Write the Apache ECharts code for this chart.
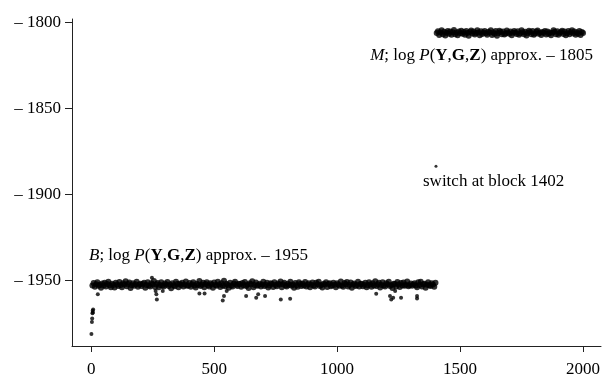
<!DOCTYPE html>
<html>
<head>
<meta charset="utf-8">
<script src="https://cdn.jsdelivr.net/npm/echarts@6/dist/echarts.min.js"></script>
<style>
  html, body { margin: 0; padding: 0; background: #fff; }
  #chart { width: 613px; height: 378px; }
</style>
</head>
<body>
<div id="chart"></div>
<script>
  // tick labels
  var xTicks = [0, 500, 1000, 1500, 2000]
  var yTicks = [-1950, -1900, -1850, -1800]

  // burn-in at the start of the chain (block, log P)
  var burnIn = [[1, -1981], [3, -1974], [4, -1972], [5, -1969], [6, -1967.5], [7, -1968.5], [8, -1966.8]]

  // model B, read every 5th block from 5 to 1400
  var bStart = 5
  var bStep = 5
  var bValues = [
    -1952.8,-1951.4,-1953.6,-1952.1,-1950.9,-1953.0,-1952.4,-1954.1,-1951.7,-1952.9,-1951.2,-1953.4,-1952.0,-1950.6,-1952.7,-1953.8,-1951.9,-1952.5,-1954.0,-1951.3,
    -1952.2,-1953.1,-1950.8,-1952.6,-1953.9,-1951.6,-1952.3,-1950.4,-1953.3,-1952.0,-1951.1,-1954.3,-1952.7,-1951.5,-1953.0,-1952.1,-1950.7,-1953.6,-1952.4,-1951.8,
    -1953.2,-1952.0,-1951.3,-1954.2,-1952.6,-1950.9,-1952.8,-1953.5,-1951.6,-1952.3,-1950.2,-1953.7,-1952.1,-1951.4,-1953.9,-1952.5,-1951.0,-1952.9,-1953.4,-1951.7,
    -1952.4,-1950.8,-1953.1,-1952.2,-1954.4,-1951.5,-1952.7,-1953.3,-1950.6,-1952.0,-1953.8,-1951.9,-1952.6,-1951.2,-1953.5,-1952.3,-1950.5,-1953.0,-1952.8,-1951.4,
    -1953.6,-1952.1,-1951.0,-1952.9,-1954.0,-1951.8,-1952.5,-1950.3,-1953.2,-1952.4,-1951.3,-1953.9,-1952.0,-1950.9,-1952.7,-1953.4,-1951.6,-1952.2,-1954.2,-1951.1,
    -1952.6,-1953.0,-1950.7,-1952.3,-1953.7,-1951.5,-1952.9,-1950.1,-1953.3,-1951.9,-1952.5,-1954.1,-1951.2,-1952.8,-1953.5,-1951.7,-1950.6,-1952.4,-1953.1,-1951.9,
    -1952.0,-1953.6,-1951.4,-1952.7,-1950.8,-1953.2,-1952.3,-1954.3,-1951.6,-1952.1,-1950.4,-1953.8,-1952.6,-1951.1,-1953.0,-1952.5,-1951.8,-1953.4,-1952.2,-1950.7,
    -1953.1,-1952.4,-1951.2,-1954.0,-1952.8,-1951.5,-1952.0,-1953.7,-1950.9,-1952.6,-1953.3,-1951.7,-1952.2,-1950.5,-1953.9,-1952.1,-1951.3,-1952.9,-1953.5,-1951.8,
    -1952.5,-1950.6,-1953.0,-1952.3,-1954.2,-1951.4,-1952.7,-1953.6,-1951.0,-1952.0,-1953.2,-1951.9,-1952.8,-1950.8,-1953.4,-1952.2,-1951.6,-1953.8,-1952.4,-1951.1,
    -1952.9,-1953.5,-1951.3,-1952.1,-1950.7,-1953.1,-1952.6,-1954.0,-1951.8,-1952.3,-1950.9,-1953.7,-1952.0,-1951.5,-1953.3,-1952.7,-1951.2,-1952.4,-1953.9,-1951.6,
    -1952.2,-1953.0,-1950.5,-1952.8,-1953.6,-1951.4,-1952.1,-1950.8,-1953.4,-1952.5,-1951.1,-1954.1,-1952.3,-1951.7,-1953.1,-1952.6,-1950.6,-1953.5,-1952.0,-1951.9,
    -1953.3,-1952.4,-1951.2,-1953.9,-1952.7,-1950.9,-1952.2,-1953.6,-1951.5,-1952.8,-1950.4,-1953.2,-1952.1,-1951.3,-1954.0,-1952.6,-1951.0,-1952.9,-1953.4,-1951.6,
    -1952.3,-1950.7,-1953.1,-1952.5,-1954.3,-1951.8,-1952.0,-1953.5,-1950.8,-1952.2,-1953.7,-1951.4,-1952.9,-1951.1,-1953.0,-1952.4,-1950.5,-1953.3,-1952.7,-1951.7,
    -1953.0,-1952.2,-1951.5,-1952.8,-1953.8,-1951.0,-1952.6,-1950.6,-1953.4,-1952.1,-1951.9,-1954.2,-1952.4,-1950.9,-1952.7,-1953.2,-1951.6,-1952.3,-1953.6,-1951.2
  ]

  // stray low values under the B band (block, log P)
  var bOutliers = [
    [27, -1958], [247, -1948.3], [262, -1956], [265, -1958], [267, -1961], [291, -1956],
    [440, -1957.5], [461, -1957.5], [535, -1961.5], [540, -1959], [551, -1956],
    [630, -1959], [671, -1960], [679, -1958], [707, -1959], [771, -1961], [809, -1960.6],
    [1159, -1957.7], [1215, -1959], [1220, -1961], [1228, -1960], [1236, -1956],
    [1260, -1960], [1325, -1960.4], [1325, -1959]
  ]

  // the switch
  var switchPoint = [[1402, -1883.5]]

  // model M, every 5th block from 1405 to 2000
  var mStart = 1405
  var mStep = 5
  var mValues = [
    -1806.2,-1805.1,-1807.3,-1805.8,-1804.6,-1806.9,-1805.4,-1807.6,-1806.0,-1804.9,-1806.5,-1805.2,-1807.1,-1805.7,-1804.4,-1806.8,-1805.9,-1807.4,-1805.3,-1806.3,
    -1804.8,-1806.6,-1805.5,-1807.2,-1805.0,-1806.1,-1807.7,-1805.6,-1804.7,-1806.4,-1805.3,-1807.0,-1806.2,-1804.5,-1805.9,-1807.5,-1805.1,-1806.7,-1805.8,-1804.9,
    -1806.3,-1807.1,-1805.4,-1806.0,-1804.6,-1807.3,-1805.7,-1806.5,-1805.0,-1807.8,-1806.1,-1804.8,-1805.6,-1806.9,-1805.2,-1807.0,-1806.4,-1804.7,-1805.9,-1806.6,
    -1805.3,-1807.4,-1806.0,-1804.9,-1805.8,-1806.7,-1805.1,-1807.2,-1806.3,-1804.5,-1805.7,-1806.8,-1805.4,-1807.6,-1806.1,-1804.8,-1805.5,-1806.9,-1805.0,-1807.1,
    -1806.4,-1805.2,-1804.7,-1806.6,-1805.9,-1807.3,-1805.6,-1806.2,-1804.9,-1807.0,-1805.3,-1806.5,-1805.8,-1807.5,-1806.0,-1804.6,-1805.4,-1806.8,-1805.1,-1807.2,
    -1806.1,-1805.5,-1804.8,-1806.7,-1805.2,-1807.4,-1806.3,-1805.0,-1806.9,-1805.7,-1804.6,-1806.4,-1805.3,-1807.1,-1805.9,-1806.6,-1805.0,-1807.3,-1805.6,-1806.2
  ]

  function toPairs(start, step, vals) {
    return vals.map(function (v, i) { return [start + i * step, v] })
  }

  var font = 'Liberation Serif'
  var fs = 17
  var rich = {
    i: { fontFamily: font, fontSize: fs, fontStyle: 'italic', fill: '#000' },
    b: { fontFamily: font, fontSize: fs, fontWeight: 'bold', fill: '#000' }
  }

  var chart = echarts.init(document.getElementById('chart'))

  chart.setOption({
    backgroundColor: '#fff',
    animation: false,
    grid: {
      left: 72,
      right: 12,
      top: 19,
      bottom: 29
    },
    xAxis: {
      type: 'value',
      min: -78,
      max: 2073,
      axisLine: { onZero: false, lineStyle: { color: '#222', width: 1 } },
      axisTick: { show: true, length: 6, lineStyle: { color: '#222' }, customValues: xTicks },
      axisLabel: {
        customValues: xTicks,
        color: '#000',
        fontFamily: font,
        fontSize: fs,
        margin: 15,
        formatter: function (v) { return String(v) }
      },
      splitLine: { show: false }
    },
    yAxis: {
      type: 'value',
      min: -1988,
      max: -1798,
      axisLine: { show: true, onZero: false, lineStyle: { color: '#222', width: 1 } },
      axisTick: { show: true, length: 7, lineStyle: { color: '#222' }, customValues: yTicks },
      axisLabel: {
        customValues: yTicks,
        color: '#000',
        fontFamily: font,
        fontSize: fs,
        margin: 11,
        formatter: function (v) { return '\u2013 ' + Math.abs(v) }
      },
      splitLine: { show: false }
    },
    graphic: [
      {
        type: 'text',
        left: 89,
        top: 247,
        style: {
          text: '{i|B}; log {i|P}({b|Y},{b|G},{b|Z}) approx. \u2013 1955',
          fontFamily: font,
          fontSize: fs,
          fill: '#000',
          rich: rich
        }
      },
      {
        type: 'text',
        right: 20,
        top: 47,
        style: {
          text: '{i|M}; log {i|P}({b|Y},{b|G},{b|Z}) approx. \u2013 1805',
          fontFamily: font,
          fontSize: fs,
          fill: '#000',
          rich: rich
        }
      },
      {
        type: 'text',
        left: 423,
        top: 173,
        style: {
          text: 'switch at block 1402',
          fontFamily: font,
          fontSize: fs,
          fill: '#000'
        }
      }
    ],
    series: [
      {
        type: 'scatter',
        data: burnIn,
        symbolSize: 4,
        itemStyle: { color: '#000' }
      },
      {
        type: 'scatter',
        data: toPairs(bStart, bStep, bValues),
        symbolSize: 6,
        itemStyle: { color: '#000' }
      },
      {
        type: 'scatter',
        data: bOutliers,
        symbolSize: 4,
        itemStyle: { color: '#000' }
      },
      {
        type: 'scatter',
        data: switchPoint,
        symbolSize: 3,
        itemStyle: { color: '#000' }
      },
      {
        type: 'scatter',
        data: toPairs(mStart, mStep, mValues),
        symbolSize: 6,
        itemStyle: { color: '#000' }
      }
    ]
  })
</script>
</body>
</html>
